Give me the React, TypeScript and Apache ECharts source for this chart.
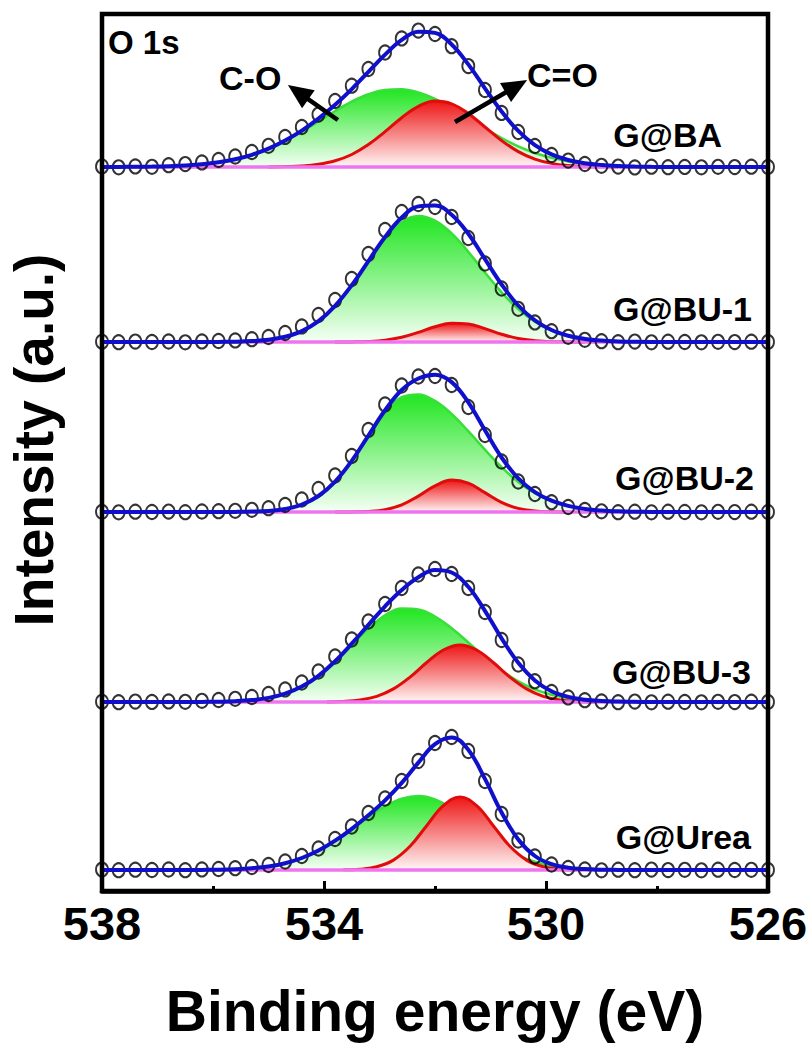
import React, { useEffect, useRef } from "react";
import * as echarts from "echarts";

// ---- Data ----
const energy = [
  538.0, 537.7, 537.4, 537.1, 536.8, 536.5, 536.2, 535.9, 535.6, 535.3, 535.0,
  534.7, 534.4, 534.1, 533.8, 533.5, 533.2, 532.9, 532.6, 532.3, 532.0, 531.7,
  531.4, 531.1, 530.8, 530.5, 530.2, 529.9, 529.6, 529.3, 529.0, 528.7, 528.4,
  528.1, 527.8, 527.5, 527.2, 526.9, 526.6, 526.3, 526.0,
];
const xTickLabels = [538, 534, 530, 526];
const sampleNames = ["G@BA", "G@BU-1", "G@BU-2", "G@BU-3", "G@Urea"];
const baselineEnergy = [538, 526];
const baselineLevel = [0, 0];

// G@BA
const baData = [0.5, -0.3, 0.6, 0.2, 1.8, 2.9, 4.6, 7.0, 10.5, 15.0, 21.2, 30.1, 40.0, 52.4, 66.0, 81.3, 98.0, 114.5, 128.6, 136.4, 133.0, 120.8, 100.9, 77.0, 54.1, 35.0, 21.0, 12.0, 6.4, 3.0, 1.2, 0.4, -0.4, 0.3, -0.2, 0.1, -0.3, 0.2, -0.1, 0.3, 0];
const baFit = [0, 0.1, 0.2, 0.4, 0.8, 1.5, 2.7, 4.7, 7.7, 12.2, 18.3, 26.4, 36.3, 48.3, 62.2, 77.9, 95.2, 112.4, 127.1, 135.3, 134.1, 122.5, 102.6, 78.7, 55.4, 36.1, 21.9, 12.7, 7.0, 3.8, 2.0, 1.0, 0.5, 0.2, 0, 0, 0, 0, 0, 0, 0];
const baCO = [0, 0.1, 0.2, 0.4, 0.8, 1.5, 2.7, 4.7, 7.7, 12.2, 18.3, 26.0, 35.3, 45.6, 56.0, 65.4, 72.8, 77.1, 77.8, 74.6, 68.2, 59.3, 49.1, 38.7, 29.0, 20.7, 14.0, 9.1, 5.6, 3.3, 1.8, 1.0, 0.5, 0.2, 0, 0, 0, 0, 0, 0, 0];
const baCdO = [0, 0, 0, 0, 0, 0, 0, 0, 0, 0, 0, 0.4, 1.0, 2.7, 6.2, 12.5, 22.4, 35.3, 49.3, 60.7, 65.9, 63.2, 53.5, 40.0, 26.4, 15.4, 7.9, 3.6, 1.4, 0.5, 0.2, 0, 0, 0, 0, 0, 0, 0, 0, 0, 0];

// G@BU-1
const bu1Data = [0.3, -0.2, 0.4, 0, 0.5, -0.3, 0.6, 1.0, 1.6, 2.8, 5.0, 9.0, 15.6, 27.0, 42.0, 63.0, 88.0, 112.0, 130.0, 138.0, 135.0, 125.0, 104.0, 78.5, 53.5, 33.2, 19.6, 10.8, 5.2, 2.2, 0.8, -0.2, 0.4, -0.3, 0.3, 0, -0.3, 0.2, -0.1, 0.3, 0];
const bu1Fit = [0, 0, 0, 0, 0, 0, 0, 0.1, 0.3, 0.9, 2.2, 5.2, 10.9, 20.9, 36.2, 56.8, 80.9, 105.0, 124.5, 135.6, 136.6, 127.3, 108.2, 82.9, 57.5, 36.5, 21.7, 12.0, 6.3, 3.1, 1.4, 0.6, 0.2, 0, 0, 0, 0, 0, 0, 0, 0];
const bu1CO = [0, 0, 0, 0, 0, 0, 0, 0.1, 0.3, 0.9, 2.2, 5.2, 10.9, 20.9, 36.2, 56.7, 80.4, 103.2, 119.8, 126.0, 121.4, 108.6, 90.2, 69.5, 49.7, 33.0, 20.4, 11.7, 6.2, 3.1, 1.4, 0.6, 0.2, 0, 0, 0, 0, 0, 0, 0, 0];
const bu1CdO = [0, 0, 0, 0, 0, 0, 0, 0, 0, 0, 0, 0, 0, 0, 0, 0.1, 0.5, 1.8, 4.7, 9.6, 15.2, 18.7, 18.0, 13.4, 7.8, 3.5, 1.3, 0.3, 0.1, 0, 0, 0, 0, 0, 0, 0, 0, 0, 0, 0, 0];

// G@BU-2
const bu2Data = [0.2, -0.3, 0.3, 0, 0.4, -0.2, 0.5, 0.8, 1.2, 2.2, 3.8, 7.0, 12.5, 23.0, 36.5, 56.0, 82.0, 107.5, 126.5, 135.5, 136.0, 127.0, 105.0, 77.0, 50.5, 30.5, 18.0, 9.8, 5.0, 2.0, 0.7, -0.2, 0.3, -0.3, 0.3, 0, -0.3, 0.2, -0.1, 0.3, 0];
const bu2Fit = [0, 0, 0, 0, 0, 0, 0, 0, 0.1, 0.4, 1.1, 3.0, 7.4, 16.0, 30.4, 51.2, 76.4, 101.7, 122.0, 133.5, 137.2, 129.9, 109.7, 81.7, 54.5, 33.7, 19.9, 11.3, 6.1, 3.1, 1.5, 0.7, 0.3, 0.1, 0, 0, 0, 0, 0, 0, 0];
const bu2CO = [0, 0, 0, 0, 0, 0, 0, 0, 0.1, 0.4, 1.1, 3.0, 7.4, 16.0, 30.4, 51.1, 75.8, 99.3, 114.8, 117.6, 111.1, 98.0, 80.8, 62.3, 44.8, 30.1, 18.9, 11.1, 6.1, 3.1, 1.5, 0.7, 0.3, 0.1, 0, 0, 0, 0, 0, 0, 0];
const bu2CdO = [0, 0, 0, 0, 0, 0, 0, 0, 0, 0, 0, 0, 0, 0, 0, 0.1, 0.6, 2.4, 7.2, 15.9, 26.1, 31.9, 28.9, 19.4, 9.7, 3.6, 1.0, 0.2, 0, 0, 0, 0, 0, 0, 0, 0, 0, 0, 0, 0, 0];

// G@BU-3
const bu3Data = [0.3, -0.2, 0.4, 0.1, 0.6, 0.2, 1.2, 2.0, 3.2, 5.0, 8.0, 12.6, 19.5, 30.5, 45.5, 62.5, 80.5, 98.0, 114.0, 127.5, 133.0, 128.0, 114.0, 90.0, 62.0, 37.5, 20.8, 10.0, 4.6, 1.8, 0.5, -0.2, 0.4, -0.3, 0.3, 0, -0.3, 0.2, -0.1, 0.3, 0];
const bu3Fit = [0, 0, 0, 0, 0, 0, 0.1, 0.3, 0.8, 1.9, 4.1, 8.4, 15.4, 26.2, 40.7, 58.3, 77.1, 95.7, 112.0, 124.7, 131.9, 129.5, 115.2, 91.2, 63.6, 39.2, 21.6, 10.8, 5.1, 2.3, 1.0, 0.4, 0.2, 0, 0, 0, 0, 0, 0, 0, 0];
const bu3CO = [0, 0, 0, 0, 0, 0, 0.1, 0.3, 0.8, 1.9, 4.1, 8.4, 15.4, 26.1, 40.4, 57.1, 73.6, 86.8, 93.5, 92.6, 85.5, 73.8, 59.5, 44.8, 31.5, 20.7, 12.7, 7.3, 3.9, 2.0, 0.9, 0.4, 0.2, 0, 0, 0, 0, 0, 0, 0, 0];
const bu3CdOEnergy = [533.95, 533.65, 533.35, 533.05, 532.75, 532.45, 532.15, 531.85, 531.55, 531.25, 530.95, 530.65, 530.35, 530.05, 529.75, 529.45, 529.15];
const bu3CdO = [0.1, 0.6, 2.1, 5.7, 13.1, 24.9, 39.5, 52.0, 57.0, 52.0, 39.5, 24.9, 13.1, 5.7, 2.1, 0.6, 0.1];

// G@Urea
const ureaData = [0.4, -0.2, 0.3, 0, 0.5, -0.2, 0.6, 1.0, 1.8, 3.0, 5.0, 8.5, 14.0, 21.5, 31.0, 43.5, 57.0, 71.5, 89.0, 109.0, 127.0, 133.0, 119.0, 89.0, 56.0, 29.5, 13.5, 5.5, 2.0, 0.5, -0.3, 0.3, -0.2, 0.4, -0.1, 0.2, -0.3, 0.3, 0, 0.2, 0];
const ureaFit = [0, 0, 0, 0, 0, 0, 0.1, 0.3, 0.8, 1.8, 3.6, 6.8, 12.0, 19.4, 29.3, 41.2, 54.7, 69.6, 87.1, 107.4, 125.8, 132.6, 120.2, 91.1, 57.5, 30.5, 14.0, 5.8, 2.3, 0.9, 0.3, 0.1, 0, 0, 0, 0, 0, 0, 0, 0, 0];
const ureaCO = [0, 0, 0, 0, 0, 0, 0.1, 0.3, 0.8, 1.8, 3.6, 6.8, 12.0, 19.4, 29.2, 40.8, 53.0, 63.8, 71.3, 74.0, 70.7, 61.8, 49.4, 36.0, 24.1, 14.7, 8.2, 4.1, 1.9, 0.8, 0.3, 0.1, 0, 0, 0, 0, 0, 0, 0, 0, 0];
const ureaCdOEnergy = [533.65, 533.35, 533.05, 532.75, 532.45, 532.15, 531.85, 531.55, 531.25, 530.95, 530.65, 530.35, 530.05, 529.75, 529.45];
const ureaCdO = [0.2, 0.8, 3.2, 9.9, 23.7, 44.3, 64.4, 73.0, 64.4, 44.3, 23.7, 9.9, 3.2, 0.8, 0.2];

// Annotation arrows in the G@BA panel: [tail energy, tail intensity, tip energy, tip intensity]
const arrowCO = [533.75, 47, 534.65, 82];
const arrowCdO = [531.64, 45, 530.34, 87];

// ---- Layout / style ----
const FONT = "'Liberation Sans', Arial, Helvetica, sans-serif";
const FRAME = { left: 102, right: 768, top: 14, bottom: 891 };
const PANEL_BASE = [167, 342, 512, 702, 870];
const PANEL_H = 150;
const LABEL_POS = [
  [722, 135],
  [752, 309],
  [754, 478],
  [751, 672],
  [751, 837],
];

const panels = [
  { data: baData, fit: baFit, co: [energy, baCO], cdo: [energy, baCdO] },
  { data: bu1Data, fit: bu1Fit, co: [energy, bu1CO], cdo: [energy, bu1CdO] },
  { data: bu2Data, fit: bu2Fit, co: [energy, bu2CO], cdo: [energy, bu2CdO] },
  { data: bu3Data, fit: bu3Fit, co: [energy, bu3CO], cdo: [bu3CdOEnergy, bu3CdO] },
  { data: ureaData, fit: ureaFit, co: [energy, ureaCO], cdo: [ureaCdOEnergy, ureaCdO] },
];

function pairs(vals: number[]) {
  return energy.map((e, i) => [e, vals[i]]);
}
function trimmed(es: number[], vals: number[]) {
  let first = vals.findIndex((v) => v > 0);
  let last = vals.length - 1;
  while (last > 0 && !(vals[last] > 0)) last--;
  first = Math.max(0, first - 1);
  last = Math.min(vals.length - 1, last + 1);
  const out: number[][] = [];
  for (let i = first; i <= last; i++) out.push([es[i], vals[i]]);
  return out;
}

function renderArrow(_params: any, api: any) {
  const a = api.coord([api.value(0), api.value(1)]);
  const b = api.coord([api.value(2), api.value(3)]);
  const dx = b[0] - a[0];
  const dy = b[1] - a[1];
  const len = Math.sqrt(dx * dx + dy * dy) || 1;
  const ux = dx / len;
  const uy = dy / len;
  const headL = 25;
  const headW = 11;
  const bx = b[0] - ux * headL;
  const by = b[1] - uy * headL;
  return {
    type: "group",
    children: [
      {
        type: "line",
        shape: { x1: a[0], y1: a[1], x2: bx + ux * 3, y2: by + uy * 3 },
        style: { stroke: "#000", lineWidth: 4.5 },
      },
      {
        type: "polygon",
        shape: {
          points: [
            [b[0], b[1]],
            [bx - uy * headW, by + ux * headW],
            [bx + uy * headW, by - ux * headW],
          ],
        },
        style: { fill: "#000" },
      },
    ],
  };
}

function buildOption() {
  const W = 812;
  const H = 1050;
  const grids: any[] = [
    {
      left: FRAME.left,
      right: W - FRAME.right,
      top: FRAME.top,
      bottom: H - FRAME.bottom,
      show: false,
    },
  ];
  const xAxes: any[] = [
    {
      gridIndex: 0,
      type: "value",
      min: 526,
      max: 538,
      interval: 4,
      inverse: true,
      axisLine: { show: true, lineStyle: { color: "#000", width: 4.5 } },
      axisTick: { show: true, inside: true, length: 10, lineStyle: { color: "#000", width: 3 } },
      minorTick: { show: true, splitNumber: 2, length: 5, lineStyle: { color: "#000", width: 3 } },
      splitLine: { show: false },
      axisLabel: {
        color: "#000",
        fontSize: 47,
        fontWeight: "bold",
        fontFamily: FONT,
        margin: 9,
        formatter: (v: number) => (xTickLabels.includes(v) ? String(v) : ""),
      },
      name: "Binding energy (eV)",
      nameLocation: "middle",
      nameGap: 91,
      nameTextStyle: { color: "#000", fontSize: 57, fontWeight: "bold", fontFamily: FONT },
    },
  ];
  const yAxes: any[] = [{ gridIndex: 0, type: "value", show: false, min: 0, max: 1 }];
  const series: any[] = [];

  const greenGrad = () =>
    new echarts.graphic.LinearGradient(0, 0, 0, 1, [
      { offset: 0, color: "#20e620" },
      { offset: 1, color: "#f6fff6" },
    ]);
  const redGrad = () =>
    new echarts.graphic.LinearGradient(0, 0, 0, 1, [
      { offset: 0, color: "#ee1616" },
      { offset: 1, color: "#fff6f6" },
    ]);

  panels.forEach((p, k) => {
    const gi = k + 1;
    grids.push({
      left: FRAME.left,
      right: W - FRAME.right,
      top: PANEL_BASE[k] - PANEL_H,
      height: PANEL_H,
      show: false,
    });
    xAxes.push({ gridIndex: gi, type: "value", min: 526, max: 538, inverse: true, show: false });
    yAxes.push({ gridIndex: gi, type: "value", min: 0, max: PANEL_H, show: false });
    const common = { xAxisIndex: gi, yAxisIndex: gi, clip: false, silent: true, animation: false };
    series.push({
      ...common,
      name: sampleNames[k] + " C-O",
      type: "line",
      data: trimmed(p.co[0], p.co[1]),
      smooth: 0.4,
      symbol: "none",
      lineStyle: { color: "#3ade3a", width: 2.5 },
      areaStyle: { color: greenGrad(), opacity: 1 },
      z: 2,
    });
    series.push({
      ...common,
      name: sampleNames[k] + " C=O",
      type: "line",
      data: trimmed(p.cdo[0], p.cdo[1]),
      smooth: 0.4,
      symbol: "none",
      lineStyle: { color: "#e00c0c", width: 3 },
      areaStyle: { color: redGrad(), opacity: 1 },
      z: 3,
    });
    series.push({
      ...common,
      name: sampleNames[k] + " baseline",
      type: "line",
      data: baselineEnergy.map((e, i) => [e, baselineLevel[i]]),
      symbol: "none",
      lineStyle: { color: "#ef74ef", width: 3.5 },
      z: 4,
    });
    series.push({
      ...common,
      name: sampleNames[k] + " data",
      type: "scatter",
      data: pairs(p.data),
      symbol: "circle",
      symbolSize: [12, 14],
      itemStyle: { color: "rgba(255,255,255,0)", borderColor: "#000", borderWidth: 2 },
      z: 5,
    });
    series.push({
      ...common,
      name: sampleNames[k] + " fit",
      type: "line",
      data: pairs(p.fit),
      smooth: 0.4,
      symbol: "none",
      lineStyle: { color: "#1010cc", width: 4 },
      z: 6,
    });
  });

  series.push({
    type: "custom",
    name: "arrows",
    xAxisIndex: 1,
    yAxisIndex: 1,
    clip: false,
    silent: true,
    animation: false,
    z: 7,
    data: [arrowCO, arrowCdO],
    renderItem: renderArrow,
  });

  const txt = (text: string, x: number, y: number, size: number, align: string, extra: any = {}) => ({
    type: "text",
    x,
    y,
    z: 50,
    silent: true,
    ...extra,
    style: {
      text,
      fill: "#000",
      fontSize: size,
      fontWeight: "bold",
      fontFamily: FONT,
      textAlign: align,
      align,
      textVerticalAlign: "middle",
      verticalAlign: "middle",
    },
  });

  const graphics: any[] = [
    {
      type: "rect",
      z: 100,
      silent: true,
      shape: {
        x: FRAME.left,
        y: FRAME.top,
        width: FRAME.right - FRAME.left,
        height: FRAME.bottom - FRAME.top,
      },
      style: { fill: "none", stroke: "#000", lineWidth: 4.5 },
    },
    txt("O 1s", 108, 42, 33, "left"),
    txt("C-O", 219, 78, 34, "left"),
    txt("C=O", 527, 75, 34, "left"),
    txt("Intensity (a.u.)", 34, 440, 55, "center", { rotation: Math.PI / 2 }),
  ];
  sampleNames.forEach((n, k) => {
    graphics.push(txt(n, LABEL_POS[k][0], LABEL_POS[k][1], 34, "right"));
  });

  return {
    animation: false,
    backgroundColor: "#fff",
    grid: grids,
    xAxis: xAxes,
    yAxis: yAxes,
    series,
    graphic: graphics,
  };
}

export default function App() {
  const ref = useRef<HTMLDivElement>(null);
  useEffect(() => {
    const chart = echarts.init(ref.current!, null, { renderer: "svg" });
    chart.setOption(buildOption() as any);
    return () => chart.dispose();
  }, []);
  return (
    <div
      ref={ref}
      style={{ position: "fixed", left: 0, top: 0, width: 812, height: 1050, background: "#fff" }}
    />
  );
}
